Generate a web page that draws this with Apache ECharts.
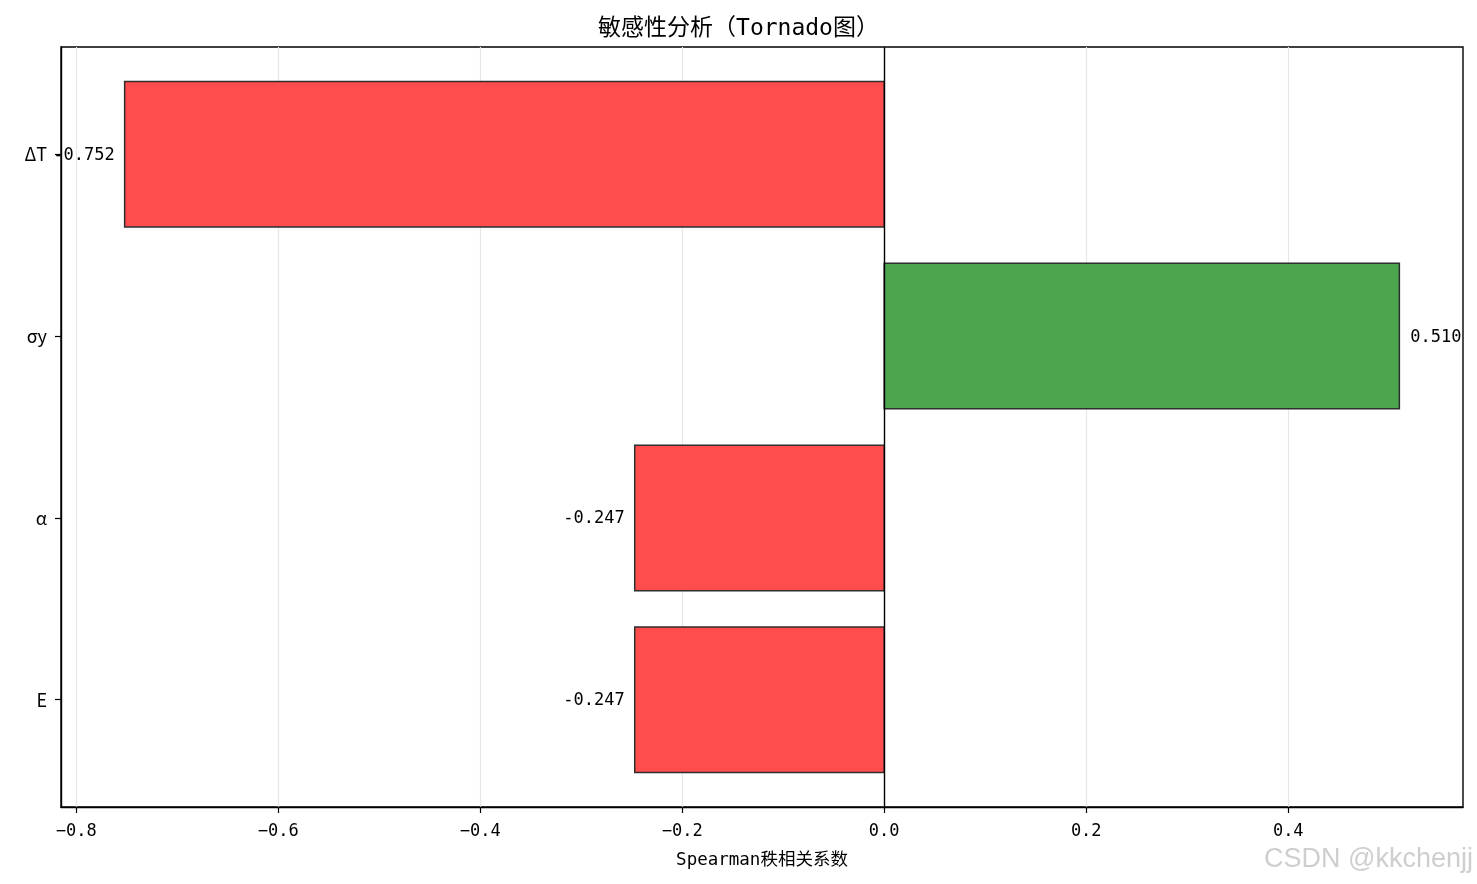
<!DOCTYPE html>
<html>
<head>
<meta charset="utf-8">
<title>敏感性分析（Tornado图）</title>
<script src="https://cdn.jsdelivr.net/npm/echarts@6/dist/echarts.min.js"></script>
<style>
  html, body { margin: 0; padding: 0; background: #fff; }
  #chart { width: 1477px; height: 884px; }
</style>
</head>
<body>
<div id="chart"></div>
<script>
// 数据（自下而上）
var categories = ['E', 'α', 'σy', 'ΔT'];
var values = [-0.247, -0.247, 0.510, -0.752];
var xTicks = [-0.8, -0.6, -0.4, -0.2, 0.0, 0.2, 0.4];
var yTicks = [0, 1, 2, 3];

var FONT = '"DejaVu Sans Mono", "Noto Sans CJK SC", monospace';
var CJK = '"Noto Sans CJK SC", sans-serif';

var chart = echarts.init(document.getElementById('chart'), null, { renderer: 'canvas' });

var barData = values.map(function (v, i) { return [v, i]; });

chart.setOption({
    animation: false,
    title: {
        text: '敏感性分析（Tornado图）',
        left: 'center',
        top: 13,
        textStyle: { fontFamily: FONT, fontSize: 23, fontWeight: 'normal', color: '#000' }
    },
    grid: {
        left: 61, right: 14, top: 47, bottom: 77,
        show: true,
        borderColor: '#000',
        borderWidth: 1.4,
        backgroundColor: 'transparent'
    },
    xAxis: {
        type: 'value',
        min: -0.815,
        max: 0.573,
        name: 'Spearman秩相关系数',
        nameLocation: 'middle',
        nameGap: 45,
        nameTextStyle: { fontFamily: FONT, fontSize: 17.5, color: '#000', verticalAlign: 'top' },
        axisLine: { show: true, onZero: false, lineStyle: { color: '#000', width: 1.4 } },
        axisTick: { show: true, length: 6, customValues: xTicks, lineStyle: { color: '#000', width: 1.2 } },
        axisLabel: {
            customValues: xTicks,
            margin: 16,
            fontFamily: FONT,
            fontSize: 17,
            color: '#000',
            formatter: function (v) { return v.toFixed(1).replace('-', '−'); }
        },
        splitLine: { show: true, lineStyle: { color: '#e6e6e6', width: 1.2 } }
    },
    yAxis: {
        type: 'value',
        min: -0.59,
        max: 3.59,
        axisLine: { show: true, onZero: false, lineStyle: { color: '#000', width: 1.4 } },
        axisTick: { show: true, length: 6, customValues: yTicks, lineStyle: { color: '#000', width: 1.2 } },
        axisLabel: {
            customValues: yTicks,
            margin: 14,
            fontFamily: CJK,
            fontSize: 18,
            color: '#000',
            formatter: function (v) { return categories[Math.round(v)] || ''; }
        },
        splitLine: { show: false }
    },
    series: [{
        type: 'custom',
        data: barData,
        encode: { x: 0, y: 1 },
        clip: false,
        renderItem: function (params, api) {
            var v = api.value(0), idx = api.value(1);
            var p0 = api.coord([0, idx]);
            var p1 = api.coord([v, idx]);
            var h = api.size([0, 0.8])[1];
            var neg = v < 0;
            return {
                type: 'group',
                children: [{
                    type: 'rect',
                    shape: {
                        x: Math.min(p0[0], p1[0]),
                        y: p0[1] - h / 2,
                        width: Math.abs(p1[0] - p0[0]),
                        height: h
                    },
                    style: {
                        fill: neg ? '#ff4d4d' : '#4da64d',
                        stroke: '#2e2e2e',
                        lineWidth: 1.5
                    }
                }, {
                    type: 'text',
                    x: p1[0] + (neg ? -10 : 11),
                    y: p1[1] + 1,
                    style: {
                        text: v.toFixed(3),
                        align: neg ? 'right' : 'left',
                        verticalAlign: 'middle',
                        fontFamily: FONT,
                        fontSize: 17,
                        fill: '#000'
                    }
                }]
            };
        },
        markLine: {
            silent: true,
            symbol: 'none',
            label: { show: false },
            lineStyle: { color: '#000', type: 'solid', width: 1.4 },
            data: [{ xAxis: 0 }]
        },
        z: 3
    }],
    graphic: [{
        type: 'text',
        right: 4,
        bottom: 11,
        style: {
            text: 'CSDN @kkchenjj',
            fontFamily: '"Liberation Sans", Arial, sans-serif',
            fontSize: 27,
            fill: 'rgba(190,190,190,0.75)'
        }
    }]
});
</script>
</body>
</html>
